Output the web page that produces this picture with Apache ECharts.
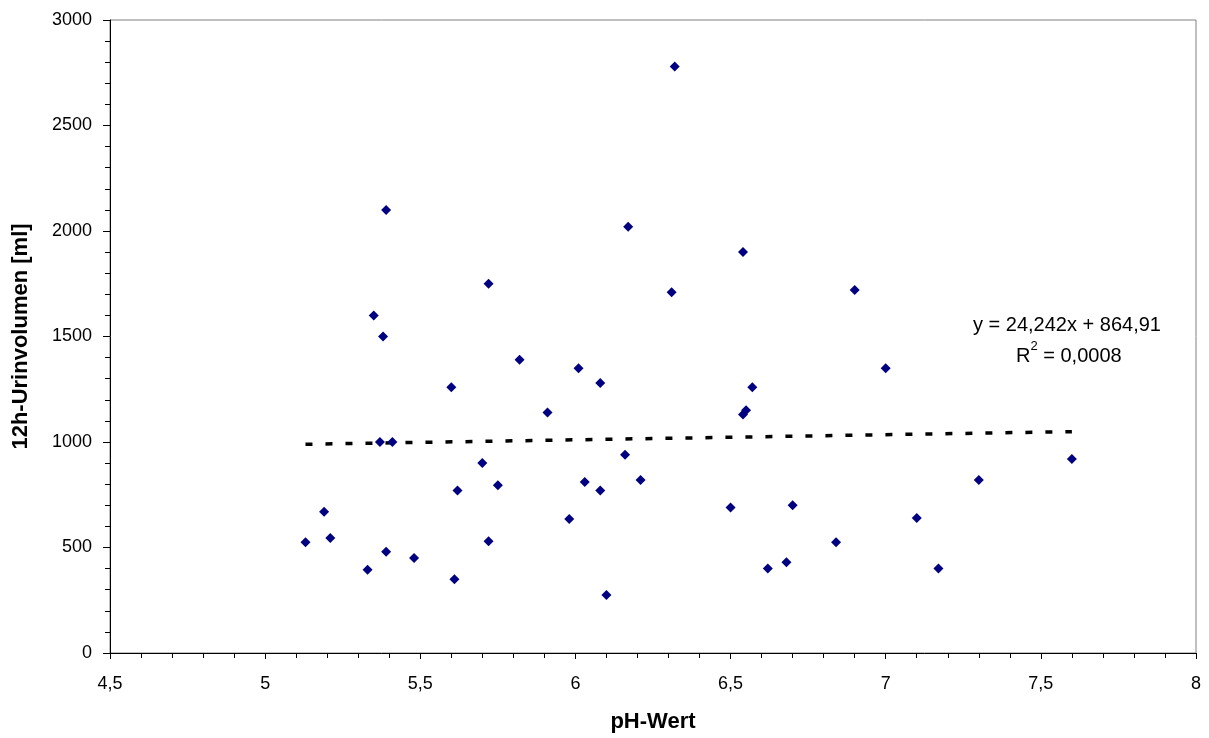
<!DOCTYPE html>
<html>
<head>
<meta charset="utf-8">
<script src="https://cdn.jsdelivr.net/npm/echarts@6/dist/echarts.min.js"></script>
<style>html,body{margin:0;padding:0;background:#fff}#c{width:1209px;height:738px}</style>
</head>
<body>
<div id="c"></div>
<script>
const phValues = [5.13,5.19,5.21,5.33,5.35,5.37,5.38,5.39,5.39,5.41,5.48,5.60,5.61,5.62,5.70,5.72,5.72,5.75,5.82,5.91,5.98,6.01,6.03,6.08,6.08,6.10,6.16,6.17,6.21,6.31,6.32,6.50,6.54,6.54,6.55,6.57,6.62,6.68,6.70,6.84,6.90,7.00,7.10,7.17,7.30,7.60];
const volumes = [525,670,545,395,1600,1000,1500,2100,480,1000,450,1260,350,770,900,1750,530,795,1390,1140,635,1350,810,1280,770,275,940,2020,820,1710,2780,690,1900,1130,1150,1260,400,430,700,525,1720,1350,640,400,820,920];
const trendSlope = 24.242;
const trendIntercept = 864.91;
const equationText = 'y = 24,242x + 864,91';
const r2Text = '0,0008';
const xTicks = [4.5, 5, 5.5, 6, 6.5, 7, 7.5, 8];
const yTicks = [0, 500, 1000, 1500, 2000, 2500, 3000];

const points = phValues.map((x, i) => [x, volumes[i]]);
const xMinData = Math.min(...phValues), xMaxData = Math.max(...phValues);
const trend = [[xMinData, trendSlope * xMinData + trendIntercept], [xMaxData, trendSlope * xMaxData + trendIntercept]];

const font = 'Liberation Sans, Arial, sans-serif';
const chart = echarts.init(document.getElementById('c'), null, {renderer: 'canvas'});
chart.setOption({
  animation: false,
  backgroundColor: '#fff',
  grid: {left: 110, top: 20, right: 13, bottom: 85, show: true, borderColor: '#808080', borderWidth: 1, backgroundColor: 'transparent'},
  xAxis: {
    type: 'value', min: xTicks[0], max: xTicks[xTicks.length - 1], interval: 0.5,
    name: 'pH-Wert', nameLocation: 'middle', nameGap: 58,
    nameTextStyle: {fontFamily: font, fontSize: 22, fontWeight: 'bold', color: '#000'},
    axisLine: {show: true, onZero: false, lineStyle: {color: '#000', width: 1}},
    axisTick: {show: true, inside: false, length: 6, lineStyle: {color: '#000'}},
    minorTick: {show: true, splitNumber: 5, length: 5, lineStyle: {color: '#000'}},
    splitLine: {show: false},
    axisLabel: {fontFamily: font, fontSize: 18, color: '#000', margin: 22,
      formatter: v => String(v).replace('.', ',')}
  },
  yAxis: {
    type: 'value', min: yTicks[0], max: yTicks[yTicks.length - 1], interval: 500,
    name: '12h-Urinvolumen [ml]', nameLocation: 'middle', nameGap: 78,
    nameTextStyle: {fontFamily: font, fontSize: 22, fontWeight: 'bold', color: '#000'},
    axisLine: {show: true, lineStyle: {color: '#000', width: 1}},
    axisTick: {show: true, inside: false, length: 7, lineStyle: {color: '#000'}},
    minorTick: {show: true, splitNumber: 5, length: 5, lineStyle: {color: '#000'}},
    splitLine: {show: false},
    axisLabel: {fontFamily: font, fontSize: 18, color: '#000', margin: 18, formatter: v => String(v)}
  },
  series: [
    {
      type: 'line', data: trend, symbol: 'none', silent: true, z: 1,
      lineStyle: {color: '#000', width: 3.5, type: [7, 13]}
    },
    {
      type: 'scatter', data: points, symbol: 'diamond', symbolSize: 10, z: 3,
      itemStyle: {color: '#000080', opacity: 1}
    }
  ],
  graphic: [
    {type: 'text', left: 973, top: 315, style: {text: equationText, font: '20px ' + font, fill: '#000'}},
    {type: 'text', left: 1016, top: 340, style: {
      text: '{a|R}{s|2}{a| = ' + r2Text + '}',
      rich: {a: {fontFamily: font, fontSize: 20, color: '#000', verticalAlign: 'bottom', lineHeight: 26},
             s: {fontFamily: font, fontSize: 13, color: '#000', verticalAlign: 'top', lineHeight: 26, padding: [0, 0, 10, 0]}}
    }}
  ]
});
</script>
</body>
</html>
